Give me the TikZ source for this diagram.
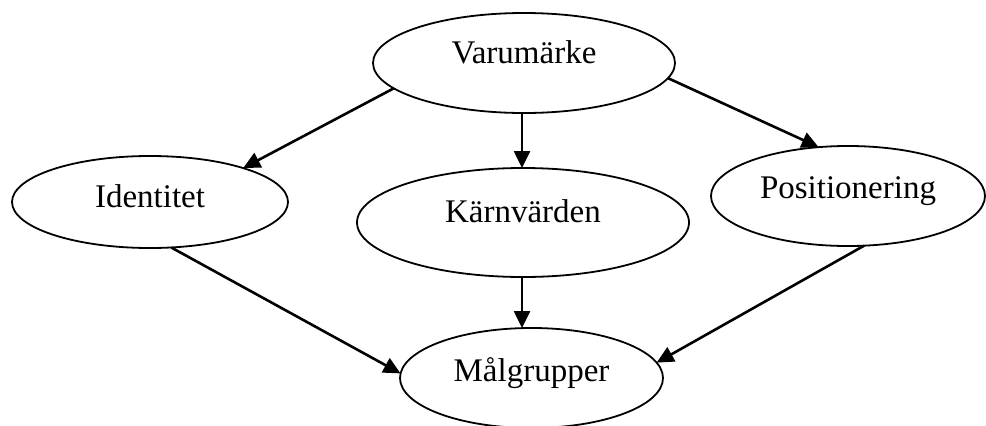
\documentclass[tikz,border=0pt]{standalone}
\usepackage{fontspec}
\setmainfont{Liberation Serif}
\usetikzlibrary{shapes.geometric,arrows.meta}
\begin{document}
\begin{tikzpicture}[x=1pt,y=1pt,
  ell/.style={ellipse,draw=black,line width=1.8pt,inner sep=0pt,outer sep=0pt,fill=white},
  lbl/.style={anchor=base,inner sep=0pt,font=\fontsize{33}{39}\selectfont},
  conn/.style={line width=2.6pt,-{Triangle[length=17pt,width=16pt]}}]
\useasboundingbox (0,0) rectangle (986,-426);
\node[ell,minimum width=302pt,minimum height=100pt] (v) at (524,-63) {};
\node[ell,minimum width=276pt,minimum height=92pt] (i) at (150,-202) {};
\node[ell,minimum width=332pt,minimum height=109pt] (k) at (523,-222.5) {};
\node[ell,minimum width=274pt,minimum height=100pt] (p) at (848,-196) {};
\node[ell,minimum width=263pt,minimum height=100pt] (m) at (531.5,-378) {};
\node[lbl] (vt) at (v.center) {Varumärke};
\node[lbl] (it) at ([yshift=-5pt]i.center) {Identitet};
\node[lbl] (kt) at (k.center) {Kärnvärden};
\node[lbl] (pt) at ([yshift=-2pt]p.center) {Positionering};
\node[lbl] (mt) at ([yshift=-3pt]m.center) {Målgrupper};
\draw[conn] (v.191.5) -- (i.20.7);
\draw[conn] ([xshift=-2pt]v.south) -- ([xshift=-1pt]k.north);
\draw[conn] (v.354.2) -- (p.121);
\draw[conn] (i.295.6) -- (m.178.7);
\draw[conn] ([xshift=-1pt]k.south) -- ([xshift=-1pt]k.south |- m.north);
\draw[conn] (p.288.1) -- (m.7.5);
\end{tikzpicture}
\end{document}
